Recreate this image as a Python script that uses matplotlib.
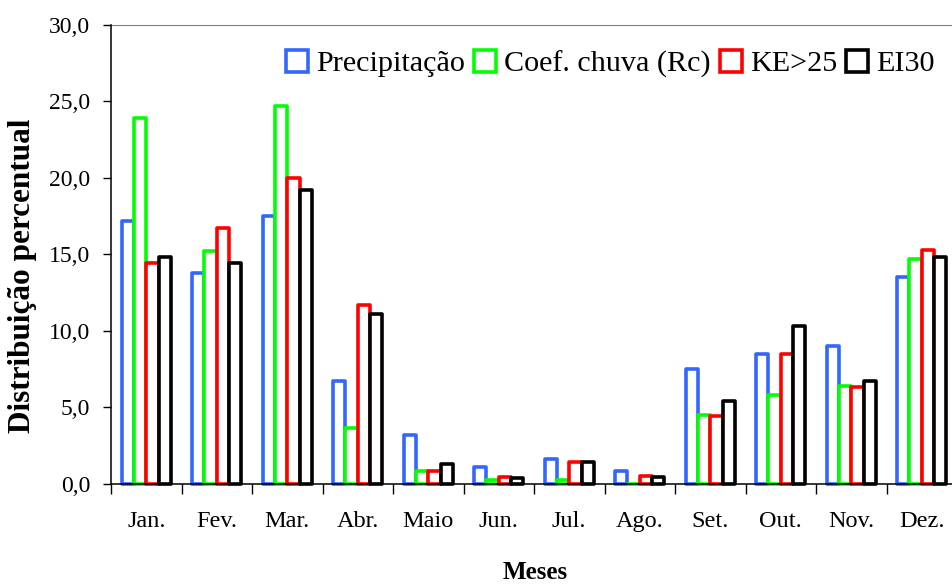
import matplotlib
matplotlib.use("Agg")
import matplotlib.pyplot as plt
import numpy as np
from matplotlib.ticker import FuncFormatter, FixedLocator

months = ["Jan.", "Fev.", "Mar.", "Abr.", "Maio", "Jun.", "Jul.", "Ago.", "Set.", "Out.", "Nov.", "Dez."]
series_names = ["Precipitação", "Coef. chuva (Rc)", "KE>25", "EI30"]
precipitacao = [17.2, 13.8, 17.5, 6.7, 3.2, 1.1, 1.6, 0.8, 7.5, 8.5, 9.0, 13.5]
coef_chuva = [23.9, 15.2, 24.7, 3.6, 0.8, 0.25, 0.25, 0.0, 4.5, 5.8, 6.4, 14.7]
ke25 = [14.4, 16.7, 20.0, 11.7, 0.8, 0.4, 1.4, 0.5, 4.4, 8.5, 6.3, 15.3]
ei30 = [14.8, 14.4, 19.2, 11.1, 1.3, 0.35, 1.4, 0.4, 5.4, 10.3, 6.7, 14.8]
colors = ["#3366FF", "#00FF00", "#FF0000", "#000000"]

plt.rcParams["font.family"] = ["Liberation Serif", "DejaVu Serif"]

W, H = 952, 585
fig = plt.figure(figsize=(W / 100, H / 100), dpi=100)
ax = fig.add_axes([111 / W, 1 - 483.5 / H, (957 - 111) / W, (483.5 - 25) / H])

x = np.arange(len(months))
w = 0.175
data = [precipitacao, coef_chuva, ke25, ei30]
for i, (vals, c, name) in enumerate(zip(data, colors, series_names)):
    bars = ax.bar(x + (i - 1.5) * w, vals, width=w, facecolor="white", edgecolor=c,
                  linewidth=2.6, label=name, zorder=2 + i)
    for b in bars:
        b.set_clip_on(False)
        b.set_joinstyle("round")

ax.set_xlim(-0.5, len(months) - 0.5)
ax.set_ylim(0, 30)
ax.set_yticks(np.arange(0, 31, 5))
ax.yaxis.set_major_formatter(FuncFormatter(lambda v, p: f"{v:.1f}".replace(".", ",")))
ax.set_xticks(x)
ax.set_xticklabels(months)
ax.xaxis.set_minor_locator(FixedLocator(np.arange(-0.5, len(months) + 0.5, 1)))
ax.tick_params(axis="x", which="major", length=0, pad=20, labelsize=17.5)
ax.tick_params(axis="x", which="minor", length=7, width=1, direction="out")
ax.tick_params(axis="y", length=6, width=1, direction="out", pad=9, labelsize=17)

ax.spines["top"].set_color("#808080")
ax.spines["right"].set_visible(False)
ax.spines["left"].set_linewidth(1.1)
ax.spines["bottom"].set_linewidth(1.1)
ax.spines["bottom"].set_zorder(10)
ax.spines["left"].set_zorder(10)

ax.set_ylabel("Distribuição percentual", fontsize=22.5, fontweight="bold")
ax.yaxis.label.set_va("center")
ax.yaxis.set_label_coords(23 / W, 1 - 275.5 / H, transform=fig.transFigure)
ax.set_xlabel("Meses", fontsize=18, fontweight="bold")
ax.xaxis.label.set_va("baseline")
ax.xaxis.set_label_coords(535.5 / W, 1 - 579 / H, transform=fig.transFigure)

leg = ax.legend(loc="center left", bbox_to_anchor=(286 / W, 1 - 64 / H), bbox_transform=fig.transFigure,
                ncol=4, frameon=False, fontsize=21.7, handlelength=0.72, handleheight=0.72,
                handletextpad=0.28, columnspacing=0.3, borderaxespad=0, borderpad=0)

fig.savefig("out.png", dpi=100)
